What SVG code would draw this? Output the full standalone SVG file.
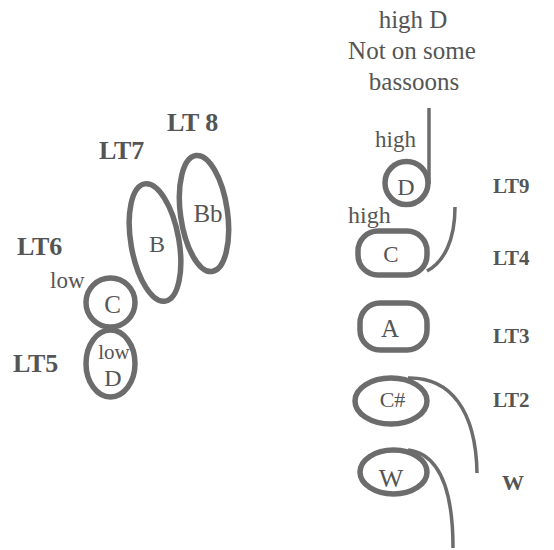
<svg xmlns="http://www.w3.org/2000/svg" width="554" height="550" viewBox="0 0 554 550" font-family="'Liberation Serif', 'DejaVu Serif', serif">
<style>
.k{fill:none;stroke:#6c6c6c;stroke-width:5.5}
.c{fill:none;stroke:#6c6c6c;stroke-width:3.5}
text{font-family:'Liberation Serif','DejaVu Serif',serif;fill:#555}
.b{font-weight:bold}
.m{text-anchor:middle}
</style>
<rect width="554" height="550" fill="#fff"/>
<g id="lt8"><ellipse class="k" cx="204" cy="213.5" rx="23.5" ry="58.5" transform="rotate(-8 204 213.5)"/><text class="m" x="208" y="222" font-size="25">Bb</text><text class="b" x="167" y="131" font-size="26">LT 8</text></g>
<g id="lt7"><ellipse class="k" cx="155" cy="242.5" rx="24" ry="59.5" transform="rotate(-10 155 242.5)"/><text class="m" x="157" y="252" font-size="24">B</text><text class="b" x="99" y="159" font-size="26">LT7</text></g>
<g id="lt6"><circle class="k" cx="110.5" cy="302.5" r="24.5"/><text class="m" x="112.5" y="313" font-size="25">C</text><text x="50" y="288" font-size="23">low</text><text class="b" x="17" y="255" font-size="26">LT6</text></g>
<g id="lt5"><ellipse class="k" cx="110.5" cy="363.5" rx="24.5" ry="33.5"/><text class="m" x="114" y="359" font-size="21">low</text><text class="m" x="113" y="386" font-size="24">D</text><text class="b" x="13" y="372" font-size="26">LT5</text></g>
<g id="note"><text class="m" x="413" y="28" font-size="25">high D</text><text class="m" x="412" y="59" font-size="25">Not on some</text><text class="m" x="414" y="90" font-size="25">bassoons</text></g>
<g id="lt9"><circle class="k" cx="406.5" cy="183" r="21.5"/><text class="m" x="406" y="195" font-size="24">D</text><text x="375" y="147" font-size="23">high</text><text class="b" x="493" y="193" font-size="21">LT9</text></g>
<g id="lt4"><rect class="k" x="358" y="231" width="69" height="44" rx="20"/><text class="m" x="391" y="262" font-size="23">C</text><text x="348" y="223" font-size="24">high</text><text class="b" x="493" y="265" font-size="21">LT4</text></g>
<g id="lt3"><rect class="k" x="360" y="303" width="67" height="47" rx="20"/><text class="m" x="390" y="337" font-size="25">A</text><text class="b" x="493" y="343" font-size="21">LT3</text></g>
<g id="lt2"><ellipse class="k" cx="391" cy="401" rx="36" ry="23"/><text class="m" x="392.5" y="407" font-size="22">C#</text><text class="b" x="493" y="407" font-size="21">LT2</text></g>
<g id="w"><ellipse class="k" cx="393.5" cy="472" rx="33.5" ry="22"/><text class="m" x="391" y="487" font-size="26">W</text><text class="b" x="502" y="490" font-size="22">W</text></g>
<g id="connectors">
<path class="c" d="M429 108 V184"/>
<path class="c" d="M427 271 C444 262 455 240 455 207"/>
<path class="c" d="M408 378 C450 377 476 410 477 473"/>
<path class="c" d="M408 450 C440 454 453 490 453 548"/>
</g>
</svg>
